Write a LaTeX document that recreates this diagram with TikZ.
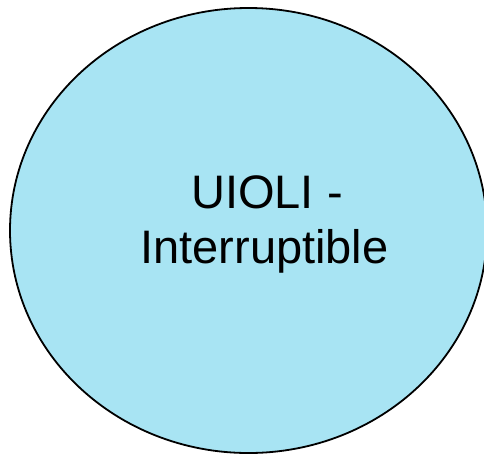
\documentclass[tikz,border=0pt]{standalone}
\usepackage{fontspec}
\setmainfont{Liberation Sans}
\usetikzlibrary{shapes.geometric}
\definecolor{poolfill}{RGB}{168,228,243}
\tikzset{
  poolshape/.style={ellipse, draw=black, line width=1.8pt, fill=poolfill,
    inner sep=0pt, outer sep=0pt},
  poollabel/.style={font=\fontsize{47}{56}\selectfont, inner sep=0pt, anchor=base}
}
\begin{document}
\begin{tikzpicture}[x=1pt, y=-1pt]
  \useasboundingbox (0,0) rectangle (484,456);
  \node[poolshape, minimum width=477pt, minimum height=445pt] (pool) at (248.5,230.5) {};
  \node[poollabel] (title1) at (267,208) {UIOLI -};
  \node[poollabel] (title2) at (264.5,263) {Interruptible};
\end{tikzpicture}
\end{document}
